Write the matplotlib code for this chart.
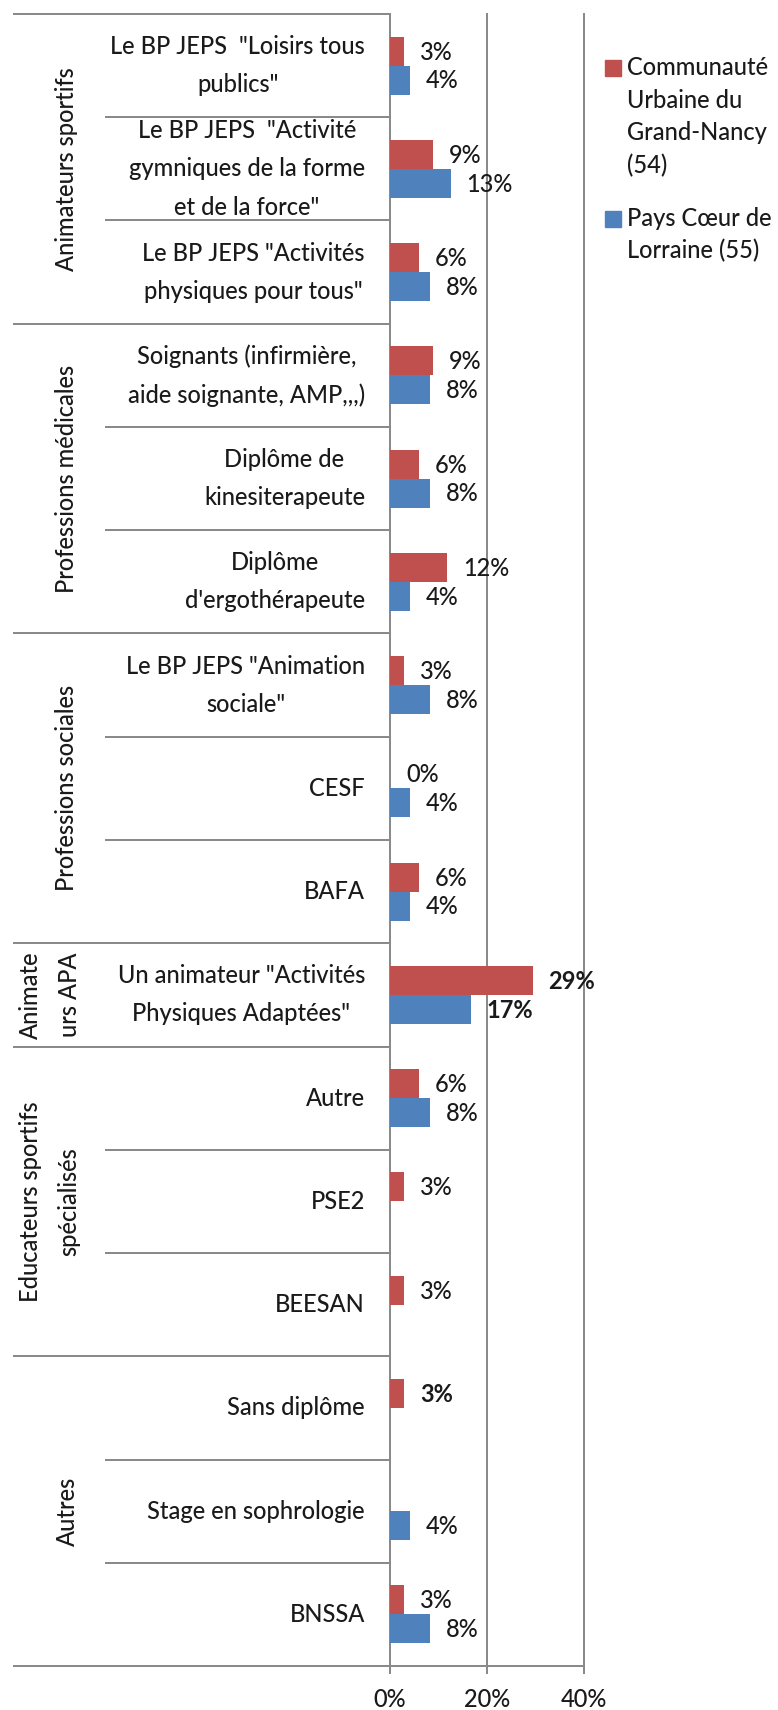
import matplotlib
matplotlib.use("Agg")
import matplotlib.pyplot as plt
from matplotlib import transforms
from matplotlib.lines import Line2D
from matplotlib.patches import Rectangle

# ---------------- data ----------------
categories = [
    'Le BP JEPS  "Loisirs tous\npublics"',
    'Le BP JEPS  "Activité\ngymniques de la forme\net de la force"',
    'Le BP JEPS "Activités\nphysiques pour tous"',
    'Soignants (infirmière,\naide soignante, AMP,,,)',
    'Diplôme de\nkinesiterapeute',
    "Diplôme\nd'ergothérapeute",
    'Le BP JEPS "Animation\nsociale"',
    'CESF',
    'BAFA',
    'Un animateur "Activités\nPhysiques Adaptées"',
    'Autre',
    'PSE2',
    'BEESAN',
    'Sans diplôme',
    'Stage en sophrologie',
    'BNSSA',
]
groups = [
    "Animateurs sportifs",
    "Professions médicales",
    "Professions sociales",
    "Animate\nurs APA",
    "Educateurs sportifs\nspécialisés",
    "Autres",
]
group_sizes = [3, 3, 3, 1, 3, 3]

communaute = [2.94, 8.82, 5.88, 8.82, 5.88, 11.76, 2.94, 0.0, 5.88, 29.41,
              5.88, 2.94, 2.94, 2.94, None, 2.94]
pays = [4.17, 12.5, 8.33, 8.33, 8.33, 4.17, 8.33, 4.17, 4.17, 16.67,
        8.33, None, None, None, 4.17, 8.33]
communaute_labels = ["3%", "9%", "6%", "9%", "6%", "12%", "3%", "0%", "6%", "29%",
                     "6%", "3%", "3%", "3%", None, "3%"]
pays_labels = ["4%", "13%", "8%", "8%", "8%", "4%", "8%", "4%", "4%", "17%",
               "8%", None, None, None, "4%", "8%"]
communaute_bold = [False] * 9 + [True] + [False] * 3 + [True] + [False] * 2
pays_bold = [False] * 9 + [True] + [False] * 6

series_names = [["Communauté", "Urbaine du", "Grand-Nancy", "(54)"],
                ["Pays Cœur de", "Lorraine (55)"]]
xticks = [0, 20, 40]
xtick_labels = ["0%", "20%", "40%"]

# ---------------- style ----------------
RED = "#C0504D"
BLUE = "#4F81BD"
GRAY = "#8A8A8A"
TXT = "#1A1A1A"
FONT = ["Lato", "DejaVu Sans"]
FS = 17
FW = 500
LW = 1.44
LS = 1.8

plt.rcParams["font.family"] = FONT

W, H, DPI = 778, 1710, 100
fig = plt.figure(figsize=(W / DPI, H / DPI), dpi=DPI)


def fx(px):
    return px / W


def fy(py):
    return 1 - py / H


AX_L, AX_R, AX_T, AX_B = 390, 584, 14, 1666
ax = fig.add_axes([fx(AX_L), fy(AX_B), (AX_R - AX_L) / W, (AX_B - AX_T) / H])
n = len(categories)
ax.set_xlim(0, 40)
ax.set_ylim(n, 0)

bh = 0.28
for i in range(n):
    if communaute[i] is not None:
        ax.barh(i + 0.5 - bh / 2, communaute[i], height=bh, color=RED, zorder=3)
    if pays[i] is not None:
        ax.barh(i + 0.5 + bh / 2, pays[i], height=bh, color=BLUE, zorder=3)

for vals, labs, bolds, off in ((communaute, communaute_labels, communaute_bold, -bh / 2),
                               (pays, pays_labels, pays_bold, bh / 2)):
    for i, (v, lab, b) in enumerate(zip(vals, labs, bolds)):
        if v is None:
            continue
        ax.annotate(lab, xy=(v, i + 0.5 + off), xytext=(11.5, -6.0),
                    textcoords="offset points", ha="left", va="baseline",
                    fontsize=FS, color=TXT, fontweight="bold" if b else FW,
                    zorder=5)

ax.set_axisbelow(True)
ax.set_xticks(xticks)
ax.set_xticklabels(xtick_labels, fontweight=FW)
ax.grid(axis="x", color=GRAY, lw=LW)
for gl in ax.get_xgridlines():
    gl.set_clip_on(False)
ax.set_yticks([])
ax.tick_params(axis="x", length=5.76, width=LW, color=GRAY, pad=10.0,
               labelsize=FS, labelcolor=TXT)
for s in ("top", "right"):
    ax.spines[s].set_visible(False)
for s in ("left", "bottom"):
    ax.spines[s].set_color(GRAY)
    ax.spines[s].set_linewidth(LW)

# ---------------- multi-level category axis ----------------
trans = transforms.blended_transform_factory(fig.transFigure, ax.transData)
group_bounds = [0]
for g in group_sizes:
    group_bounds.append(group_bounds[-1] + g)

for b in range(n + 1):
    start = 13 if b in group_bounds else 105
    fig.add_artist(Line2D([fx(start), fx(AX_L)], [b, b], transform=trans,
                          color=GRAY, lw=LW, clip_on=False, solid_capstyle="butt"))

for i, lab in enumerate(categories):
    fig.text(fx(365), i + 0.5, lab, transform=trans, ha="right", va="center",
             multialignment="center", linespacing=LS, fontsize=FS, color=TXT,
             fontweight=FW)

for gi, g in enumerate(groups):
    y0, y1 = group_bounds[gi], group_bounds[gi + 1]
    xpos = 50 if "\n" in g else 67
    fig.text(fx(xpos), (y0 + y1) / 2, g, transform=trans, rotation=90,
             ha="center", va="center", multialignment="center",
             linespacing=LS, fontsize=FS, color=TXT, fontweight=FW)

# ---------------- legend ----------------
leg_squares = [(605, 60), (605, 211)]
leg_baselines = [[75, 108, 140, 173], [226, 258]]
for (sx, sy), col, lines, bls in zip(leg_squares, (RED, BLUE), series_names, leg_baselines):
    fig.add_artist(Rectangle((fx(sx), fy(sy + 16)), 16 / W, 16 / H,
                             transform=fig.transFigure, color=col))
    for line, bl in zip(lines, bls):
        fig.text(fx(627), fy(bl), line, ha="left", va="baseline",
                 fontsize=FS, color=TXT, fontweight=FW)

fig.savefig("out.png", dpi=DPI)
